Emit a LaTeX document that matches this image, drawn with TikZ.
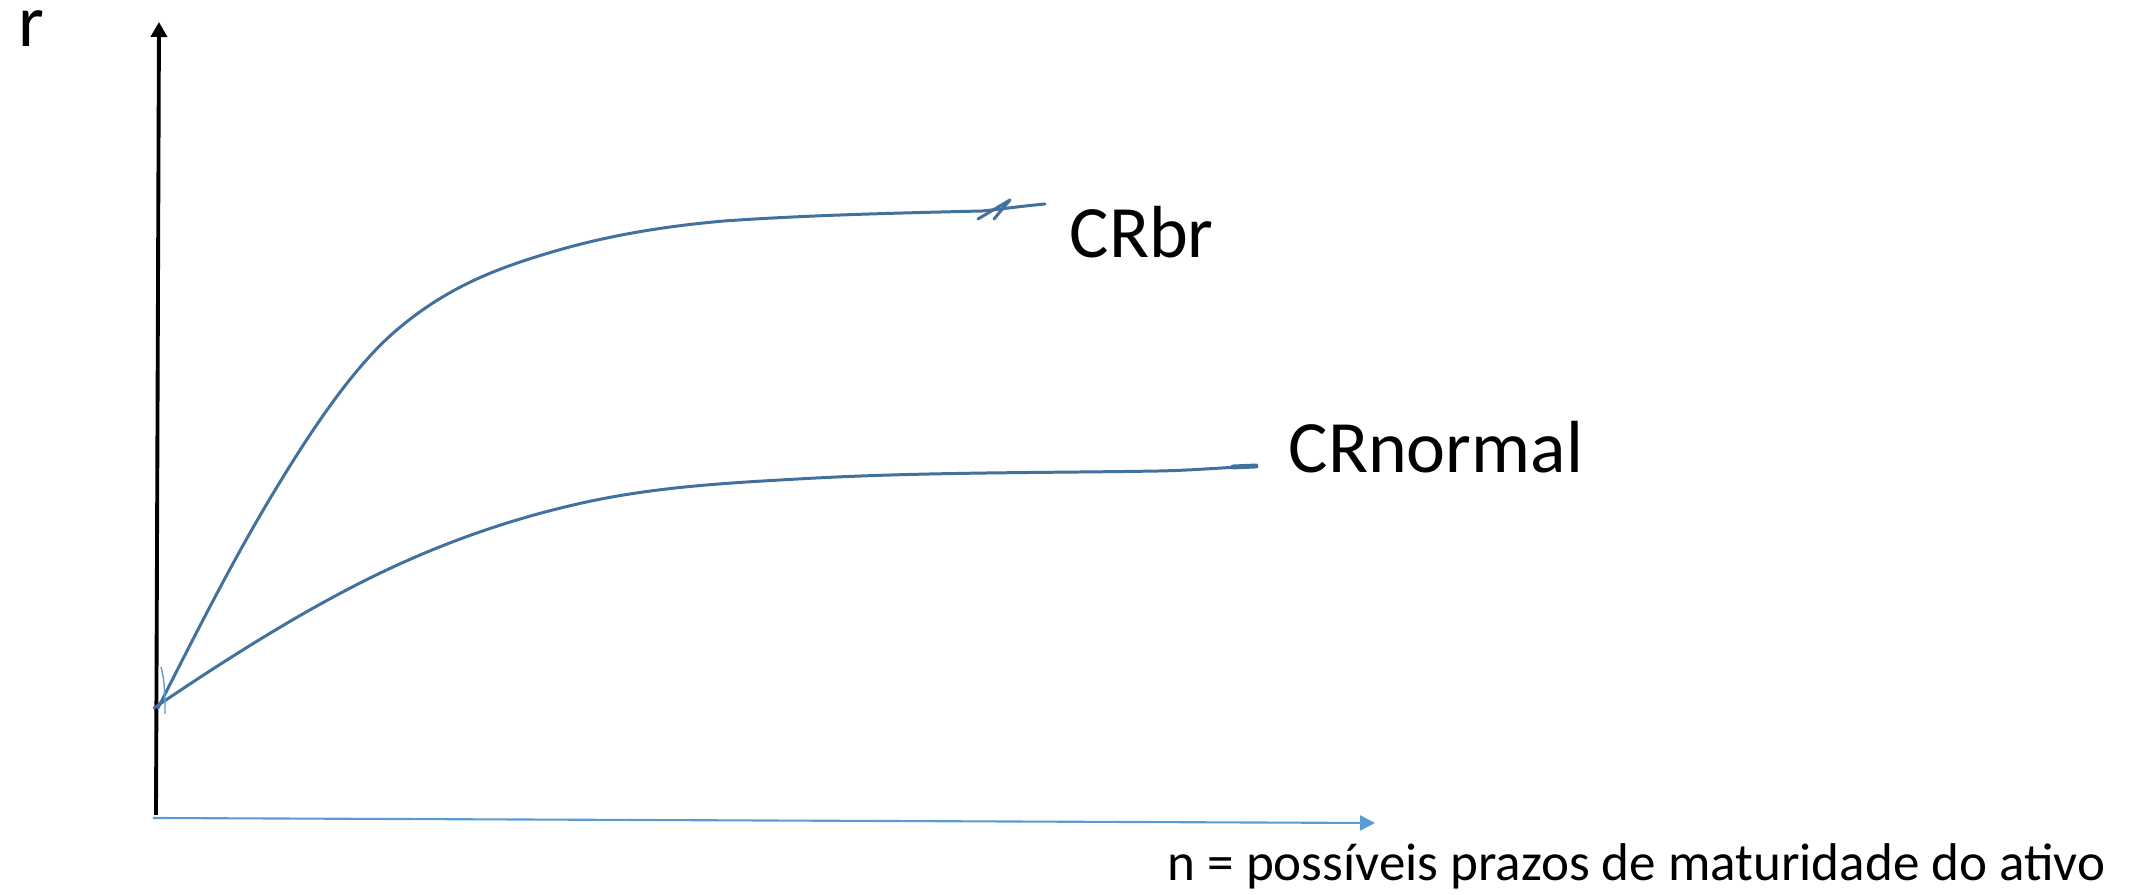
\documentclass[tikz,border=0pt]{standalone}
\usepackage{fontspec}
\setmainfont{Carlito}
\usetikzlibrary{arrows.meta}
\definecolor{curveblue}{HTML}{41719C}
\definecolor{axisblue}{HTML}{5B9BD5}
\tikzset{
  curve/.style={draw=curveblue, line width=0.85pt, line cap=round, line join=round},
  yaxis/.style={draw=black, line width=1.1pt, -{Triangle[length=0.15cm,width=0.16cm]}},
  xaxis/.style={draw=axisblue, line width=0.6pt, -{Triangle[length=0.15cm,width=0.15cm]}},
  biglabel/.style={anchor=base west, inner sep=0pt, font=\fontsize{21}{25}\selectfont},
  smalllabel/.style={anchor=base west, inner sep=0pt, font=\fontsize{15.1}{18}\selectfont},
}
\begin{document}
\begin{tikzpicture}[x=0.01cm,y=-0.01cm]
\useasboundingbox[fill=white] (0,0) rectangle (2133,895);
% axes
\coordinate (yb) at (156,815);
\coordinate (yt) at (159,22);
\coordinate (xb) at (153,818);
\coordinate (xt) at (1375,823);
\draw[yaxis] (yb) -- (yt);
\draw[xaxis] (xb) -- (xt);
% labels
\node[biglabel] (r) at (18,47) {r};
\node[biglabel] (crbr) at (1069,258) {CRbr};
\node[biglabel] (crnormal) at (1288,473) {CRnormal};
\node[smalllabel] (nlabel) at (1167,881) {n = possíveis prazos de maturidade do ativo};
% CRbr curve
\coordinate (b0) at (158,708);
\coordinate (b1) at (265,507);
\coordinate (b2) at (391,335);
\coordinate (b3) at (552,252);
\coordinate (b4) at (724,221);
\coordinate (b5) at (982,211);
\coordinate (b6) at (1045,204);
\draw[curve] (b0) .. controls (194,637) and (229,568) .. (b1)
  .. controls (307,436) and (349,373) .. (b2)
  .. controls (445,287) and (498,268) .. (b3)
  .. controls (609,235) and (667,226) .. (b4)
  .. controls (810,215) and (900,213) .. (b5)
  .. controls (1002,209) and (1023,206) .. (b6);
% squiggle at end of CRbr
\coordinate (s0) at (978,219);
\coordinate (s1) at (1010,200);
\coordinate (s2) at (994,219);
\draw[curve] (s0) -- (s1) -- (s2);
% CRnormal curve
\coordinate (n0) at (154,708);
\coordinate (n1) at (366,580);
\coordinate (n2) at (582,503);
\coordinate (n3) at (798,479);
\coordinate (n4) at (1159,471);
\coordinate (n5) at (1256,466);
\coordinate (n6) at (1233,467);
\draw[curve] (n0) .. controls (225,660) and (296,615) .. (n1)
  .. controls (438,544) and (510,519) .. (n2)
  .. controls (654,487) and (726,483) .. (n3)
  .. controls (918,472) and (1039,473) .. (n4)
  .. controls (1191,470.4) and (1224,467.6) .. (n5);
\draw[curve, line width=1.4pt] (n6) -- (n5);
% small tick near origin
\coordinate (t0) at (161,667);
\coordinate (t1) at (165,714);
\draw[draw=axisblue, line width=0.4pt] (t0) .. controls (165,680) and (165,700) .. (t1);
\end{tikzpicture}
\end{document}
